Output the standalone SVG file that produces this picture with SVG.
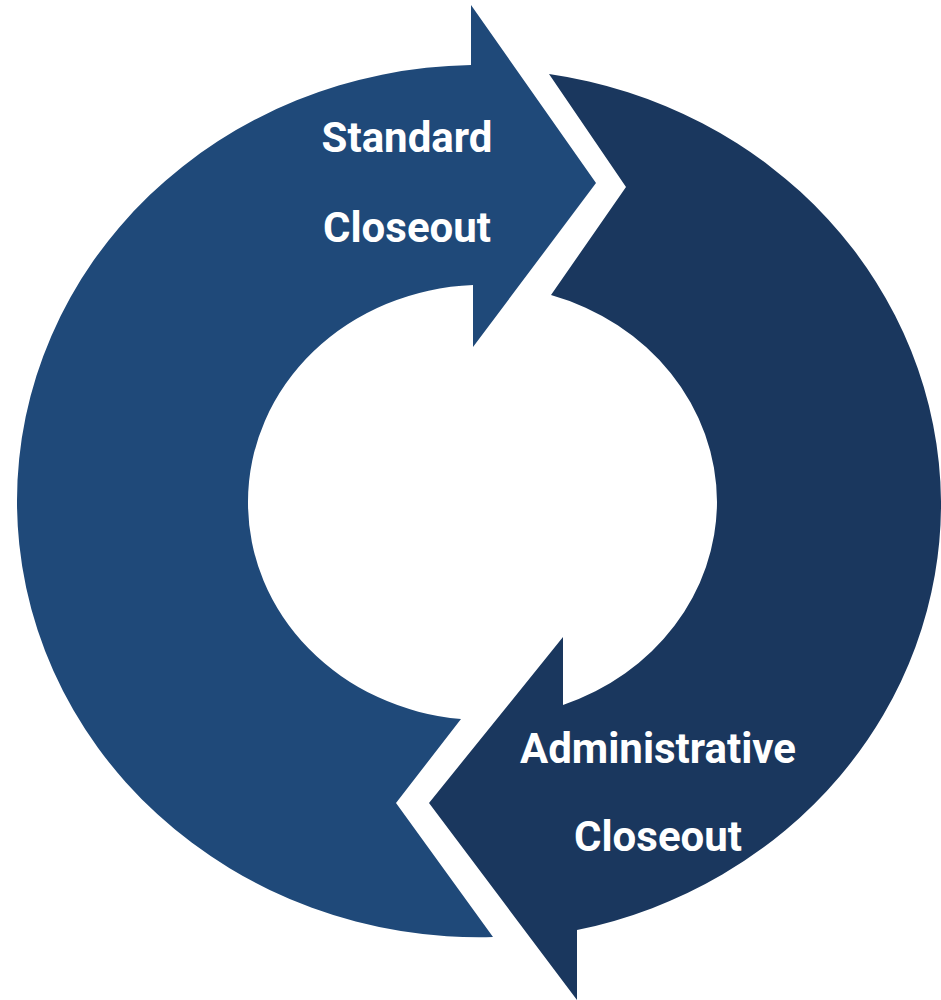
<svg xmlns="http://www.w3.org/2000/svg" width="941" height="1000" viewBox="0 0 941 1000">
<style>
.light{fill:#1F4979}
.dark{fill:#1A375E}
.lbl{font-family:Roboto,"Liberation Sans",sans-serif;font-weight:700;font-size:42px;fill:#FFFFFF;text-anchor:middle}
</style>
<rect width="941" height="1000" fill="#FFFFFF"/>
<g id="standard-closeout">
<path class="light" d="M493,937 A462,436 0 0 1 17,501 A462,436 0 0 1 471,65 L471,5 L596,183 L473,347 L473,285 A234.5,217 0 0 0 248,502 A234.5,217 0 0 0 461,719 L396,803 Z"/>
<text class="lbl" x="407" y="152">Standard</text>
<text class="lbl" x="407" y="242">Closeout</text>
</g>
<g id="administrative-closeout">
<path class="dark" d="M549,74 A462,436 0 0 1 941,501 A462,436 0 0 1 577,930 L577,1000 L429,803 L563,637 L563,705 A234.5,217 0 0 0 717,502 A234.5,217 0 0 0 551,295 L626,187 Z"/>
<text class="lbl" x="658" y="763">Administrative</text>
<text class="lbl" x="658" y="851">Closeout</text>
</g>
<g id="connectors"></g>
</svg>
